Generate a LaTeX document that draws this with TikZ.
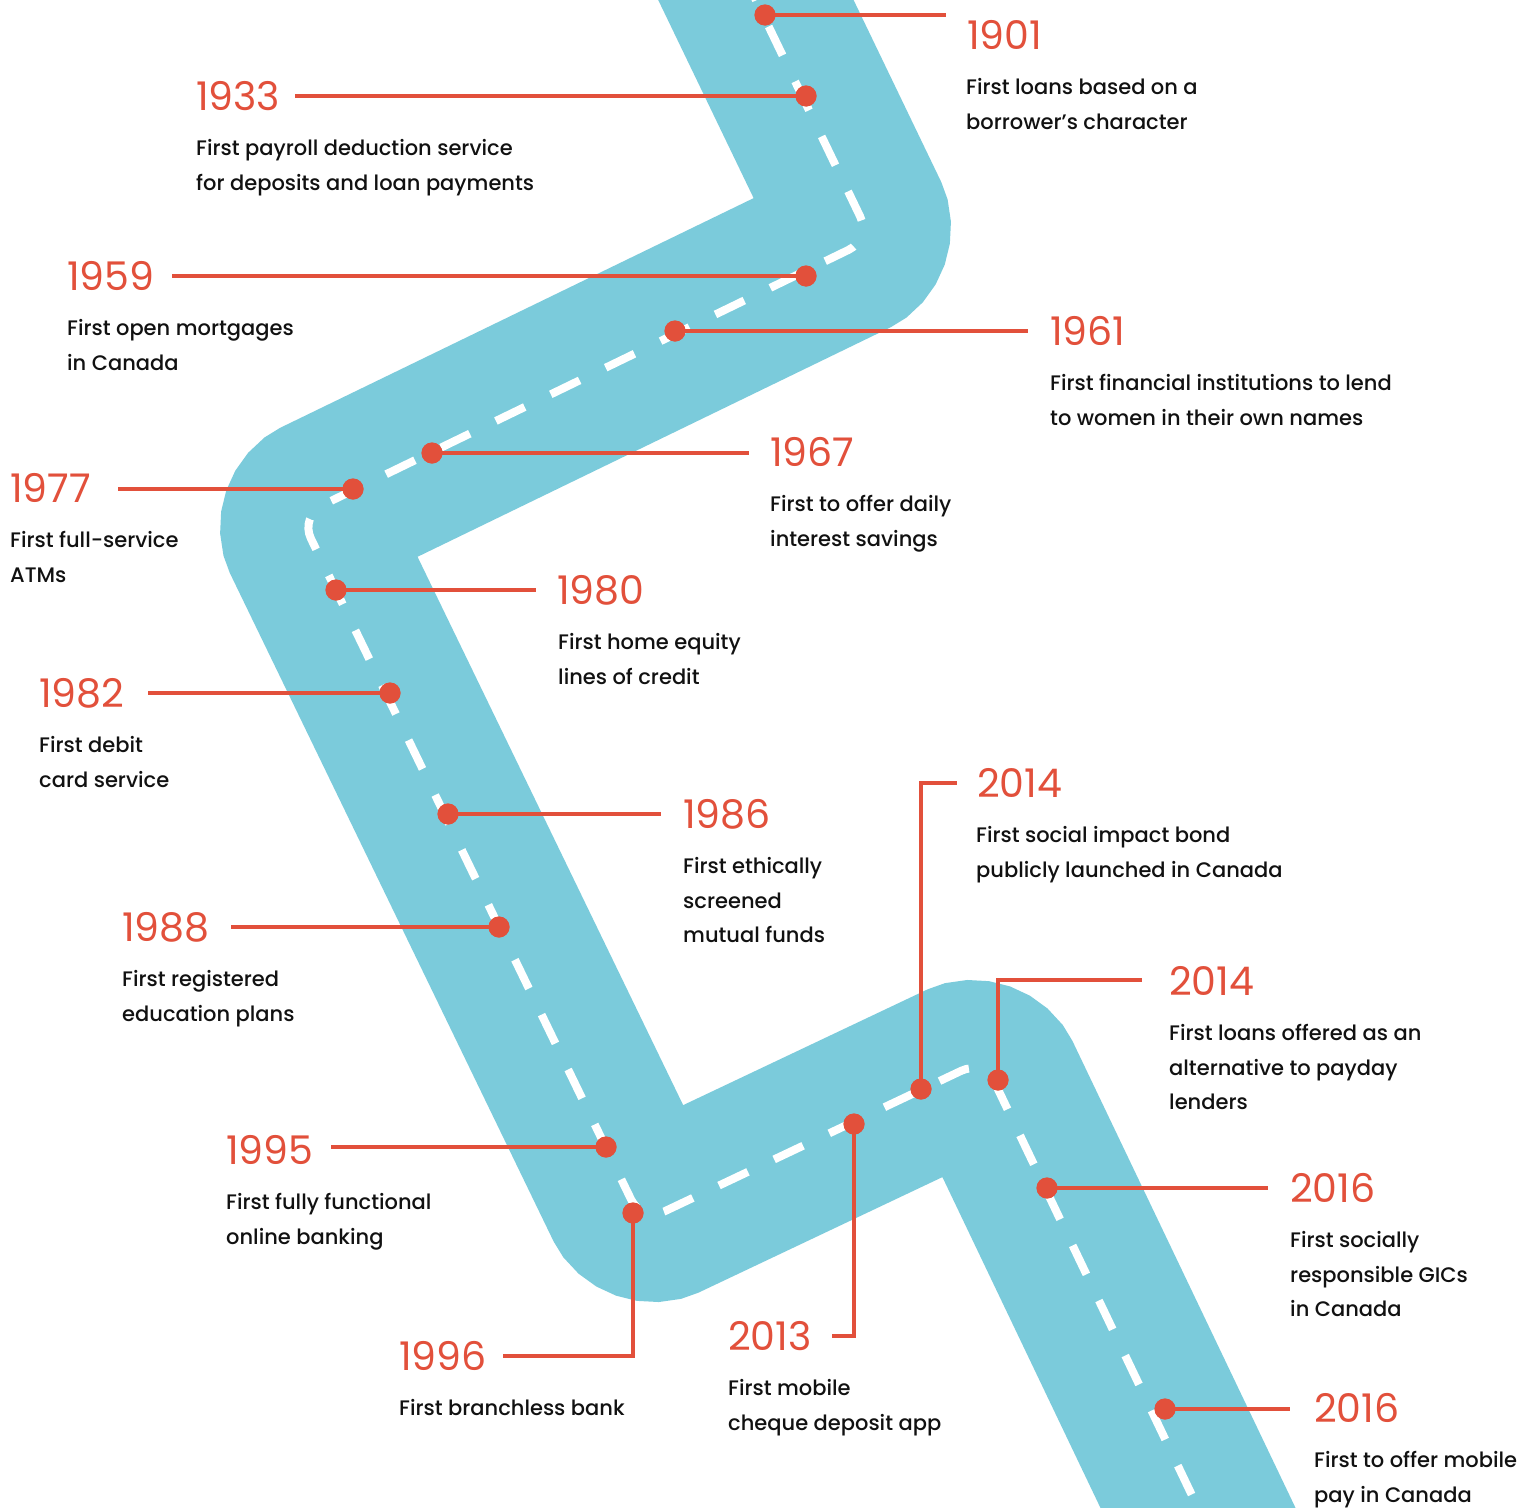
\documentclass[tikz,border=0pt]{standalone}
\usepackage{fontspec}
\setmainfont{Poppins}
\newfontfamily\bodyf{Poppins Medium}
\newfontfamily\yearf{Poppins}
\definecolor{roadc}{HTML}{7BCBDB}
\definecolor{accent}{HTML}{E2503B}
\definecolor{ink}{HTML}{111111}
\newcommand\bodylines[4]{%
  \foreach \txt [count=\i] in {#4} {
    \node[bodytext] (#1-\i) at (#2,{#3+59.5+34.5*(\i-1)}) {\txt};
  }%
}
\begin{document}
\begin{tikzpicture}[x=1pt,y=-1pt,
  roadline/.style={draw=roadc, line width=176pt, rounded corners=25pt},
  laneline/.style={draw=white, line width=8pt, rounded corners=25pt, dash pattern=on 32pt off 29pt, dash phase=26pt},
  dot/.style={circle, fill=accent, inner sep=0pt, minimum size=21pt},
  conn/.style={draw=accent, line width=4.5pt},
  year/.style={anchor=west, inner sep=0pt, text=accent, font=\yearf\fontsize{39.5}{41}\selectfont},
  bodytext/.style={anchor=base west, inner sep=0pt, text=ink, font=\bodyf\fontsize{21}{24}\selectfont},
]
\useasboundingbox (0,0) rectangle (1533,1507);
\clip (0,0) rectangle (1533,1507);
\fill[white] (0,0) rectangle (1533,1507);

% road
\coordinate (r0) at (727,-60);
\coordinate (r1) at (871,239);
\coordinate (r2) at (300,516);
\coordinate (r3) at (642,1222);
\coordinate (r4) at (984,1060);
\coordinate (r5) at (1242,1600);
\draw[roadline] (r0) -- (r1) -- (r2) -- (r3) -- (r4) -- (r5);
\draw[laneline] (r0) -- (r1) -- (r2) -- (r3) -- (r4) -- (r5);

% dots
\node[dot] (d1901) at (765,15) {};
\node[dot] (d1933) at (806,96) {};
\node[dot] (d1959) at (806,276) {};
\node[dot] (d1961) at (675,331) {};
\node[dot] (d1967) at (432,453) {};
\node[dot] (d1977) at (353,489) {};
\node[dot] (d1980) at (336,590) {};
\node[dot] (d1982) at (390,693) {};
\node[dot] (d1986) at (448,814) {};
\node[dot] (d1988) at (499,927) {};
\node[dot] (d1995) at (606,1147) {};
\node[dot] (d1996) at (633,1213) {};
\node[dot] (d2013) at (854,1124) {};
\node[dot] (d2014a) at (921,1089) {};
\node[dot] (d2014b) at (998,1080) {};
\node[dot] (d2016a) at (1047,1188) {};
\node[dot] (d2016b) at (1165,1409) {};

% connector ends
\coordinate (e1901) at (946,15);
\coordinate (e1933) at (295,96);
\coordinate (e1959) at (172,276);
\coordinate (e1961) at (1028,331);
\coordinate (e1967) at (749,453);
\coordinate (e1977) at (118,489);
\coordinate (e1980) at (536,590);
\coordinate (e1982) at (148,693);
\coordinate (e1986) at (661,814);
\coordinate (e1988) at (231,927);
\coordinate (e1995) at (331,1147);
\coordinate (b1996) at (633,1356);
\coordinate (e1996) at (503,1356);
\coordinate (b2013) at (854,1336);
\coordinate (e2013) at (832,1336);
\coordinate (b2014a) at (921,783);
\coordinate (e2014a) at (957,783);
\coordinate (b2014b) at (998,980);
\coordinate (e2014b) at (1142,980);
\coordinate (e2016a) at (1268,1188);
\coordinate (e2016b) at (1290,1409);

% connectors
\draw[conn] (d1901.center) -- (e1901);
\draw[conn] (d1933.center) -- (e1933);
\draw[conn] (d1959.center) -- (e1959);
\draw[conn] (d1961.center) -- (e1961);
\draw[conn] (d1967.center) -- (e1967);
\draw[conn] (d1977.center) -- (e1977);
\draw[conn] (d1980.center) -- (e1980);
\draw[conn] (d1982.center) -- (e1982);
\draw[conn] (d1986.center) -- (e1986);
\draw[conn] (d1988.center) -- (e1988);
\draw[conn] (d1995.center) -- (e1995);
\draw[conn] (d1996.center) -- (b1996) -- (e1996);
\draw[conn] (d2013.center) -- (b2013) -- (e2013);
\draw[conn] (d2014a.center) -- (b2014a) -- (e2014a);
\draw[conn] (d2014b.center) -- (b2014b) -- (e2014b);
\draw[conn] (d2016a.center) -- (e2016a);
\draw[conn] (d2016b.center) -- (e2016b);

% redraw dots on top
\foreach \d in {d1901,d1933,d1959,d1961,d1967,d1977,d1980,d1982,d1986,d1988,d1995,d1996,d2013,d2014a,d2014b,d2016a,d2016b}
  \fill[accent] (\d.center) circle (10.5);

% years
\node[year] (y1901) at (967,35) {1901};
\node[year] (y1933) at (196,96) {1933};
\node[year] (y1959) at (67,276) {1959};
\node[year] (y1961) at (1050,331) {1961};
\node[year] (y1967) at (770,452) {1967};
\node[year] (y1977) at (10,488) {1977};
\node[year] (y1980) at (557,590) {1980};
\node[year] (y1982) at (39,693) {1982};
\node[year] (y1986) at (683,814) {1986};
\node[year] (y1988) at (122,927) {1988};
\node[year] (y1995) at (226,1150) {1995};
\node[year] (y1996) at (399,1356) {1996};
\node[year] (y2013) at (728,1336) {2013};
\node[year] (y2014a) at (977,783) {2014};
\node[year] (y2014b) at (1169,981) {2014};
\node[year] (y2016a) at (1290,1188) {2016};
\node[year] (y2016b) at (1314,1408) {2016};

% descriptions
\bodylines{t1901}{966}{35}{First loans based on a,borrower’s character}
\bodylines{t1933}{196}{96}{First payroll deduction service,for deposits and loan payments}
\bodylines{t1959}{67}{276}{First open mortgages,in Canada}
\bodylines{t1961}{1050}{331}{First financial institutions to lend,to women in their own names}
\bodylines{t1967}{770}{452}{First to offer daily,interest savings}
\bodylines{t1977}{10}{488}{First full-service,ATMs}
\bodylines{t1980}{558}{590}{First home equity,lines of credit}
\bodylines{t1982}{39}{693}{First debit,card service}
\bodylines{t1986}{683}{814}{First ethically,screened,mutual funds}
\bodylines{t1988}{122}{927}{First registered,education plans}
\bodylines{t1995}{226}{1150}{First fully functional,online banking}
\bodylines{t1996}{399}{1356}{First branchless bank}
\bodylines{t2013}{728}{1336}{First mobile,cheque deposit app}
\bodylines{t2014a}{976}{783}{First social impact bond,publicly launched in Canada}
\bodylines{t2014b}{1169}{981}{First loans offered as an,alternative to payday,lenders}
\bodylines{t2016a}{1290}{1188}{First socially,responsible GICs,in Canada}
\bodylines{t2016b}{1314}{1408}{First to offer mobile,pay in Canada}
\end{tikzpicture}
\end{document}
